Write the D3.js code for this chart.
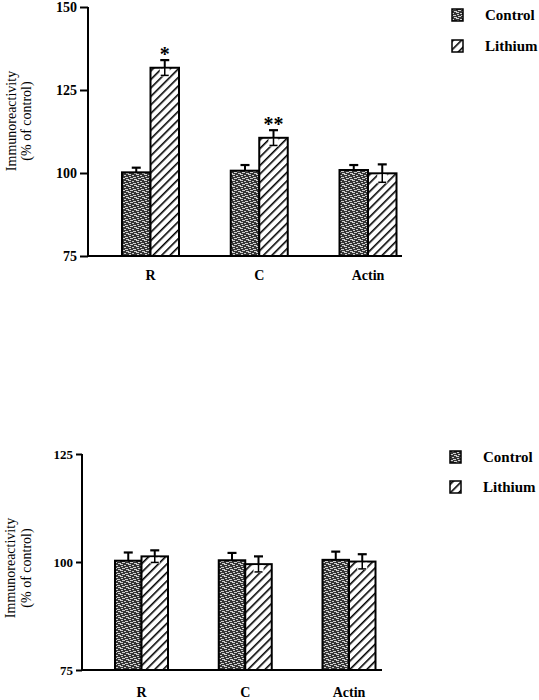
<!DOCTYPE html>
<html>
<head>
<meta charset="utf-8">
<script src="https://cdn.jsdelivr.net/npm/d3@7"></script>
<style>
  html, body { margin: 0; padding: 0; background: #fff; }
  svg { display: block; }
</style>
</head>
<body>
<svg id="chart" width="539" height="700"></svg>
<script>
// ---------- Data ----------
const categories = ["R", "C", "Actin"];
const seriesNames = ["Control", "Lithium"];

// Panel A (top)
const topControl = [100.2, 100.7, 100.9];
const topControlErr = [1.4, 1.7, 1.5];
const topLithium = [131.7, 110.6, 99.9];
const topLithiumErr = [2.3, 2.3, 2.7];
const topSignif = ["*", "**", ""];
const topTicks = [75, 100, 125, 150];

// Panel B (bottom)
const botControl = [100.3, 100.4, 100.5];
const botControlErr = [1.9, 1.7, 1.9];
const botLithium = [101.3, 99.5, 100.1];
const botLithiumErr = [1.4, 1.8, 1.7];
const botTicks = [75, 100, 125];

const FONT = "'Liberation Serif', 'Times New Roman', Times, serif";
const svg = d3.select("#chart");
const defs = svg.append("defs");

// Control texture pattern (dark stipple)
const pc = defs.append("pattern").attr("id", "ctrlPat")
  .attr("patternUnits", "userSpaceOnUse").attr("width", 8).attr("height", 6);
pc.append("rect").attr("width", 8).attr("height", 6).attr("fill", "#353535");
[[0,0,3],[4,1,2],[1,2,2],[5,3,3],[2,4,3],[6,5,2],[0,5,1]].forEach(([x,y,w]) => {
  pc.append("rect").attr("x", x).attr("y", y).attr("width", w).attr("height", 1).attr("fill", "#cfcfcf");
});

// Lithium hatch pattern
const ph = defs.append("pattern").attr("id", "lithPat")
  .attr("patternUnits", "userSpaceOnUse").attr("width", 6).attr("height", 6)
  .attr("patternTransform", "rotate(45)");
ph.append("rect").attr("width", 6).attr("height", 6).attr("fill", "#fff");
ph.append("line").attr("x1", 0).attr("y1", 0).attr("x2", 0).attr("y2", 6)
  .attr("stroke", "#000").attr("stroke-width", 3.2);

function txt(sel) { return sel.attr("font-family", FONT).attr("fill", "#000"); }

function panel(cfg) {
  const g = svg.append("g");
  const y = d3.scaleLinear().domain(cfg.domain).range(cfg.yRange);
  const x = d3.scalePoint().domain(categories).range(cfg.xCenters);
  const bw = cfg.barW;

  // y axis
  const ax = g.append("g").attr("transform", `translate(${cfg.axisX},0)`)
    .call(d3.axisLeft(y).tickValues(cfg.ticks).tickSize(cfg.tickLen).tickPadding(3).tickFormat(d3.format("d")));
  ax.attr("font-family", FONT);
  ax.select(".domain").attr("stroke-width", 2).attr("d", `M0,${cfg.yRange[0]}V${cfg.yRange[1]}`);
  ax.selectAll(".tick line").attr("stroke-width", 2);
  txt(ax.selectAll(".tick text")).attr("font-weight", "bold").attr("font-size", cfg.tickFont);

  const series = [
    { vals: cfg.control, err: cfg.controlErr, fill: "url(#ctrlPat)", off: -1, lower: false },
    { vals: cfg.lithium, err: cfg.lithiumErr, fill: "url(#lithPat)", off: 0, lower: true }
  ];
  series.forEach(s => {
    categories.forEach((c, i) => {
      const x0 = x(c) + s.off * bw;
      const v = s.vals[i], e = s.err[i];
      g.append("rect").attr("x", x0).attr("y", y(v)).attr("width", bw)
        .attr("height", y(cfg.domain[0]) - y(v))
        .attr("fill", s.fill).attr("stroke", "#000").attr("stroke-width", 2);
      const cx = x0 + bw / 2;
      if (s.lower) {
        g.append("rect").attr("x", cx - 5).attr("y", y(v) + 1).attr("width", 10)
          .attr("height", y(v - e) - y(v)).attr("fill", "#fff");
        g.append("line").attr("x1", cx).attr("x2", cx).attr("y1", y(v)).attr("y2", y(v - e))
          .attr("stroke", "#000").attr("stroke-width", 1.5);
        g.append("line").attr("x1", cx - 4).attr("x2", cx + 4).attr("y1", y(v - e)).attr("y2", y(v - e))
          .attr("stroke", "#000").attr("stroke-width", 1.5);
      }
      g.append("line").attr("x1", cx).attr("x2", cx).attr("y1", y(v + e)).attr("y2", y(v))
        .attr("stroke", "#000").attr("stroke-width", 2);
      g.append("line").attr("x1", cx - 4.5).attr("x2", cx + 4.5).attr("y1", y(v + e)).attr("y2", y(v + e))
        .attr("stroke", "#000").attr("stroke-width", 2.2);
      if (cfg.signif && s.off === 0 && cfg.signif[i]) {
        txt(g.append("text")).attr("x", cx).attr("y", y(v + e) + 1).attr("text-anchor", "middle")
          .attr("font-weight", "bold").attr("font-size", 20).text(cfg.signif[i]);
      }
    });
  });

  // x baseline
  g.append("line").attr("x1", cfg.axisX).attr("x2", cfg.baseEnd)
    .attr("y1", y(cfg.domain[0])).attr("y2", y(cfg.domain[0]))
    .attr("stroke", "#000").attr("stroke-width", 2);

  // category labels
  categories.forEach(c => {
    txt(g.append("text")).attr("x", x(c)).attr("y", cfg.catY).attr("text-anchor", "middle")
      .attr("font-weight", "bold").attr("font-size", 14).text(c);
  });

  // y title
  const yt = g.append("g").attr("transform", `translate(0,${cfg.titleY})`);
  txt(yt.append("text")).attr("transform", `translate(${cfg.titleX1},0) rotate(-90)`)
    .attr("text-anchor", "middle").attr("dominant-baseline", "central").attr("font-size", 14).text("Immunoreactivity");
  txt(yt.append("text")).attr("transform", `translate(${cfg.titleX2},0) rotate(-90)`)
    .attr("text-anchor", "middle").attr("dominant-baseline", "central").attr("font-size", 14).text("(% of control)");

  // legend
  const fills = ["url(#ctrlPat)", "url(#lithPat)"];
  seriesNames.forEach((n, i) => {
    const ly = cfg.legendY[i];
    g.append("rect").attr("x", cfg.legendX).attr("y", ly - 6).attr("width", 11).attr("height", 12)
      .attr("fill", fills[i]).attr("stroke", "#000").attr("stroke-width", 1.5);
    txt(g.append("text")).attr("x", cfg.legendX + 33).attr("y", ly).attr("dominant-baseline", "central")
      .attr("font-weight", "bold").attr("font-size", 15).text(n);
  });
}

panel({
  domain: [75, 150], yRange: [256, 7], ticks: topTicks, axisX: 88, tickLen: 8, tickFont: 14,
  xCenters: [150.5, 368], barW: 28.5,
  control: topControl, controlErr: topControlErr, lithium: topLithium, lithiumErr: topLithiumErr,
  signif: topSignif,
  baseEnd: 402, catY: 280, titleY: 121, titleX1: 11, titleX2: 26,
  legendX: 452, legendY: [15, 46]
});

panel({
  domain: [75, 125], yRange: [670, 454], ticks: botTicks, axisX: 82, tickLen: 6, tickFont: 13,
  xCenters: [141.5, 349], barW: 26.5,
  control: botControl, controlErr: botControlErr, lithium: botLithium, lithiumErr: botLithiumErr,
  signif: null,
  baseEnd: 382, catY: 697, titleY: 568, titleX1: 10, titleX2: 26,
  legendX: 450, legendY: [457, 487]
});
</script>
</body>
</html>
